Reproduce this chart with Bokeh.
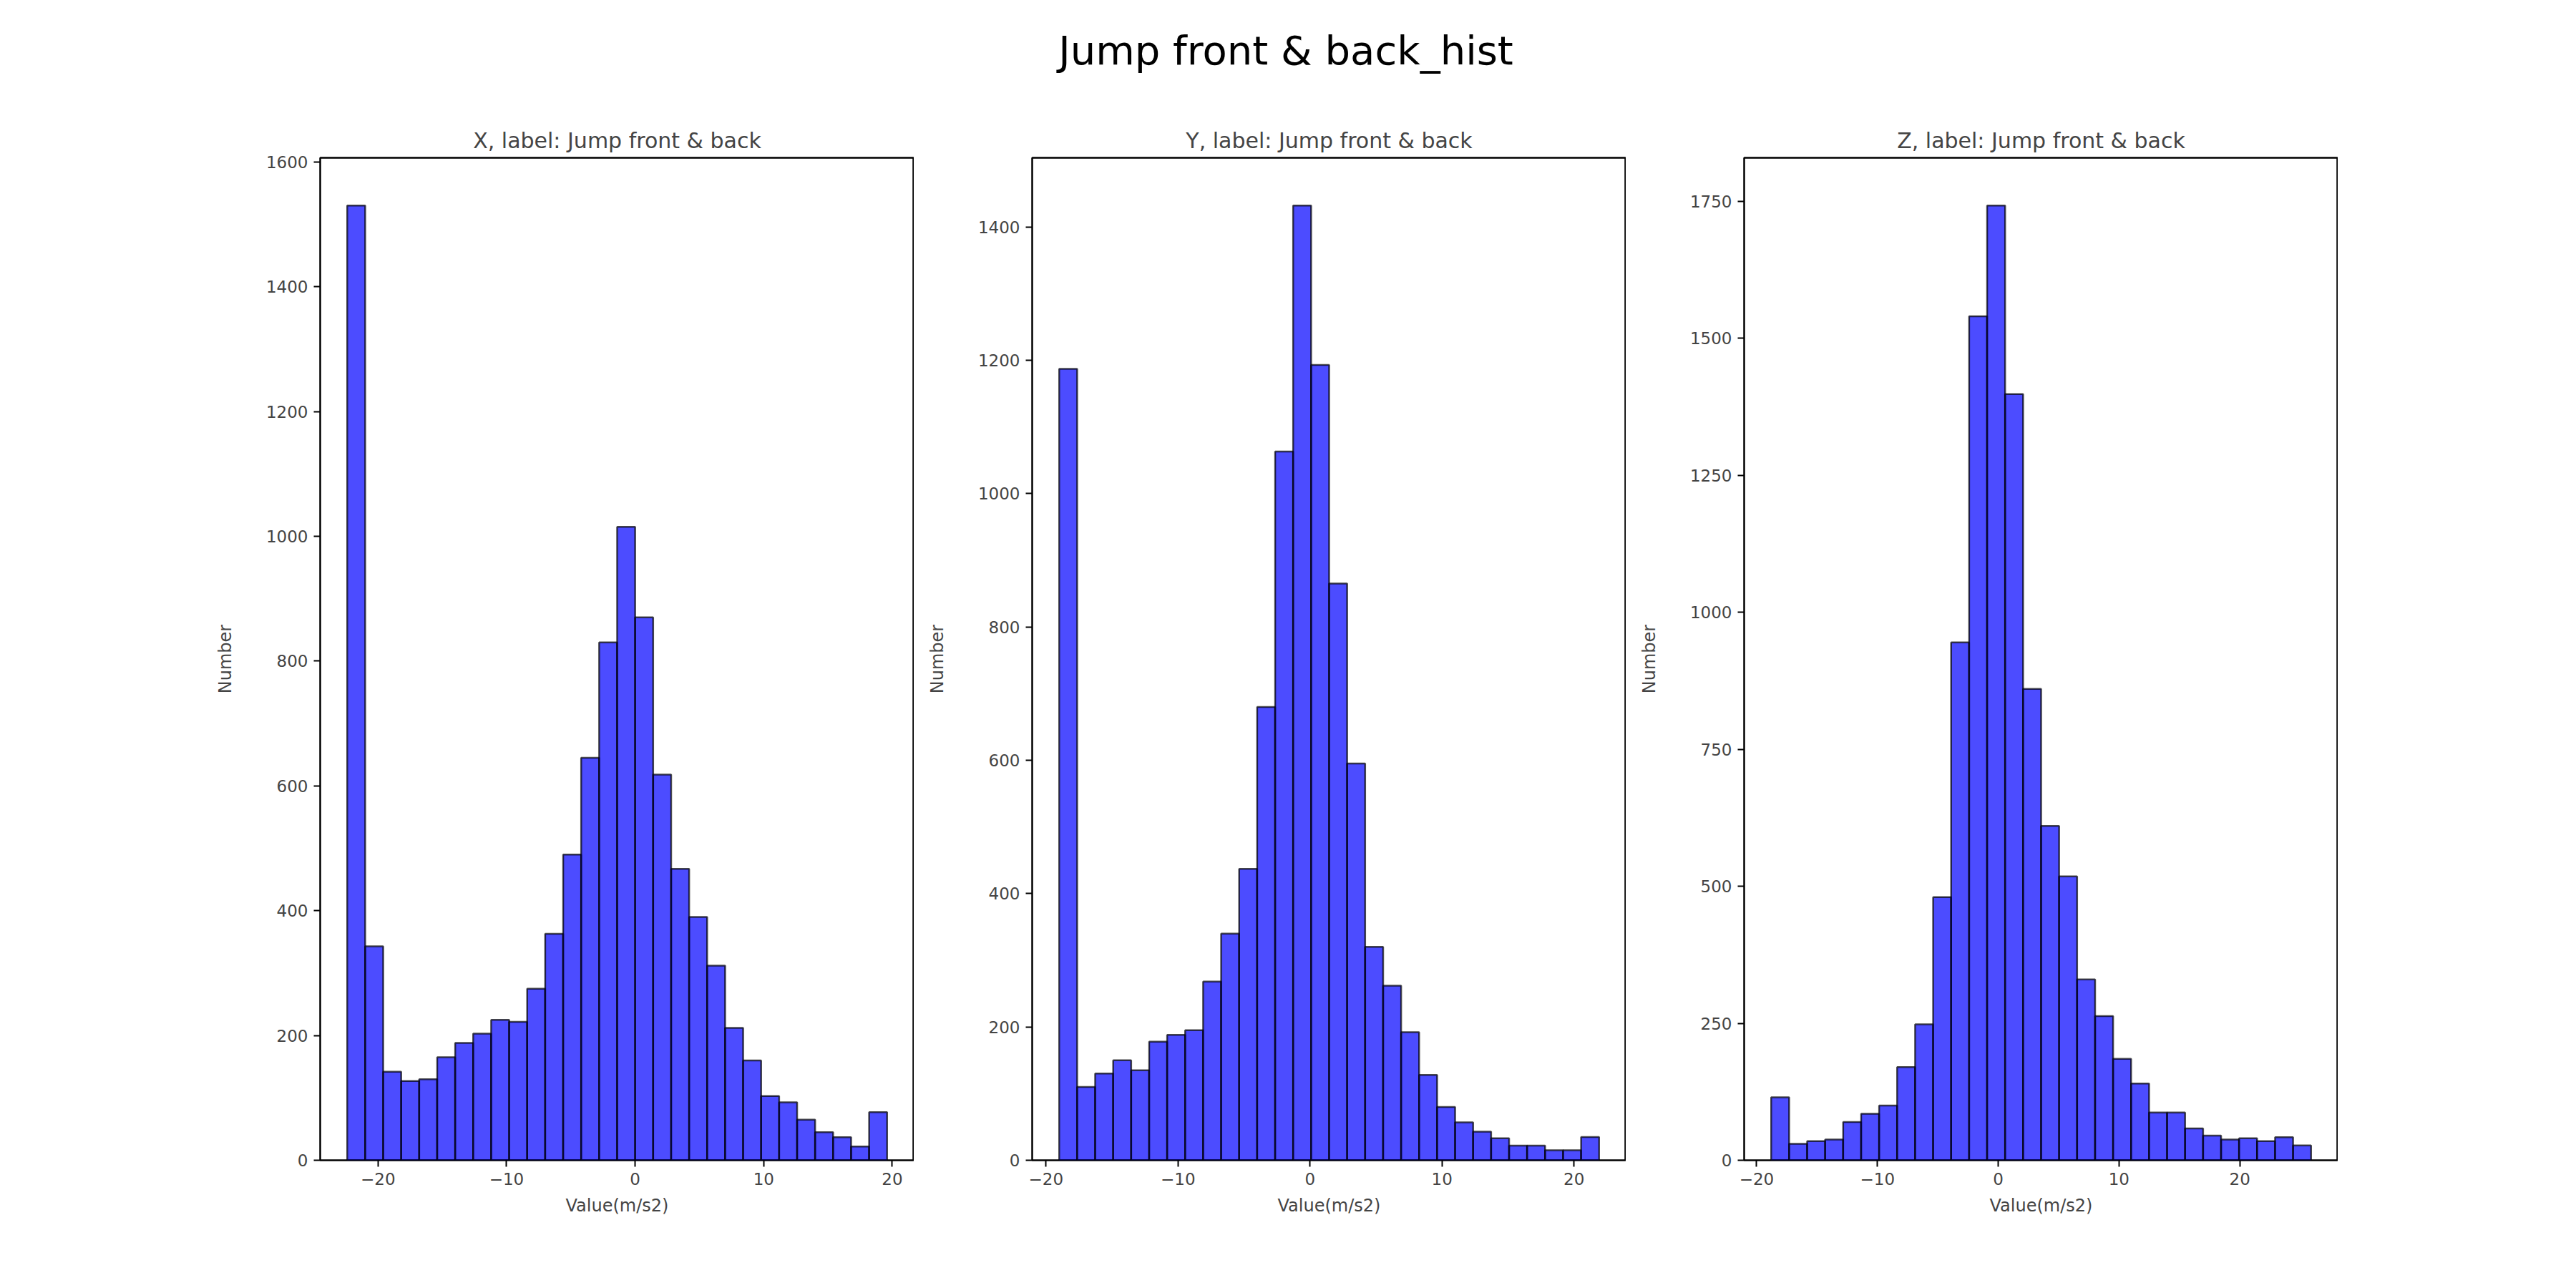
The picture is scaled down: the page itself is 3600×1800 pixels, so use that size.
import numpy as np
from bokeh.plotting import figure
from bokeh.models import FixedTicker, Div, Range1d
from bokeh.layouts import column, row
from bokeh.embed import file_html
from bokeh.resources import INLINE

# histogram counts (30 bins each)
x_counts = [1530, 343, 142, 127, 130, 165, 188, 203, 225, 222, 275, 363, 490, 645, 830,
            1015, 870, 618, 467, 390, 312, 212, 160, 103, 93, 65, 45, 37, 22, 77]
y_counts = [1187, 110, 130, 150, 135, 178, 188, 195, 268, 340, 437, 680, 1063, 1432, 1193,
            865, 595, 320, 262, 192, 128, 80, 57, 43, 33, 22, 22, 15, 15, 35]
z_counts = [115, 30, 35, 38, 70, 85, 100, 170, 248, 480, 945, 1540, 1742, 1398, 860,
            610, 518, 330, 263, 185, 140, 87, 87, 58, 45, 38, 40, 35, 42, 27]
# data min / max of each axis
x_lim = (-22.4, 19.6)
y_lim = (-19.0, 21.9)
z_lim = (-18.8, 25.9)
x_ticks = [-20, -10, 0, 10, 20]
y_ticks_list = [[0, 200, 400, 600, 800, 1000, 1200, 1400, 1600],
                [0, 200, 400, 600, 800, 1000, 1200, 1400],
                [0, 250, 500, 750, 1000, 1250, 1500, 1750]]
names = ["X", "Y", "Z"]

FONT = "DejaVu Sans"


def hist_panel(name, counts, lim, yticks, border_left):
    edges = np.linspace(lim[0], lim[1], len(counts) + 1)
    span = lim[1] - lim[0]
    p = figure(frame_width=830, frame_height=1401, output_backend="svg",
               toolbar_location=None, title=f"{name}, label: Jump front & back",
               min_border_left=border_left, min_border_right=0, min_border_top=78,
               min_border_bottom=120)
    p.x_range = Range1d(lim[0] - 0.05 * span, lim[1] + 0.05 * span)
    p.y_range = Range1d(0, max(counts) * 1.05)
    p.quad(left=edges[:-1], right=edges[1:], bottom=0, top=counts,
           fill_color="blue", fill_alpha=0.7, line_color="black", line_alpha=0.7,
           line_width=2.5)
    p.title.text_font = FONT
    p.title.text_font_size = "30px"
    p.title.text_font_style = "normal"
    p.title.align = "center"
    p.title.offset = 0
    p.title.standoff = 14
    p.grid.grid_line_color = None
    p.outline_line_color = "black"
    p.outline_line_width = 2.5
    p.xaxis.ticker = FixedTicker(ticks=x_ticks)
    p.yaxis.ticker = FixedTicker(ticks=yticks)
    p.xaxis.axis_label = "Value(m/s2)"
    p.yaxis.axis_label = "Number"
    for ax in (p.xaxis, p.yaxis):
        ax.axis_label_text_font = FONT
        ax.axis_label_text_font_size = "24px"
        ax.axis_label_text_font_style = "normal"
        ax.major_label_text_font = FONT
        ax.major_label_text_font_size = "23px"
        ax.major_tick_in = 0
        ax.major_tick_out = 9
        ax.major_tick_line_width = 2
        ax.minor_tick_line_color = None
        ax.axis_line_color = None
        ax.major_label_standoff = 8
    p.yaxis.axis_label_standoff = 40
    p.xaxis.axis_label_standoff = 12
    return p


panels = []
for i, (counts, lim) in enumerate([(x_counts, x_lim), (y_counts, y_lim), (z_counts, z_lim)]):
    panels.append(hist_panel(names[i], counts, lim, y_ticks_list[i], 447 if i == 0 else 165))

title = Div(text="Jump front &amp; back_hist", width=3584, height=132,
            styles={"text-align": "center", "font-size": "56px", "line-height": "132px",
                    "font-family": FONT, "width": "3584px"})

layout = column(title, row(*panels, spacing=0), spacing=0)

open("out.html", "w").write(file_html(layout, INLINE))
